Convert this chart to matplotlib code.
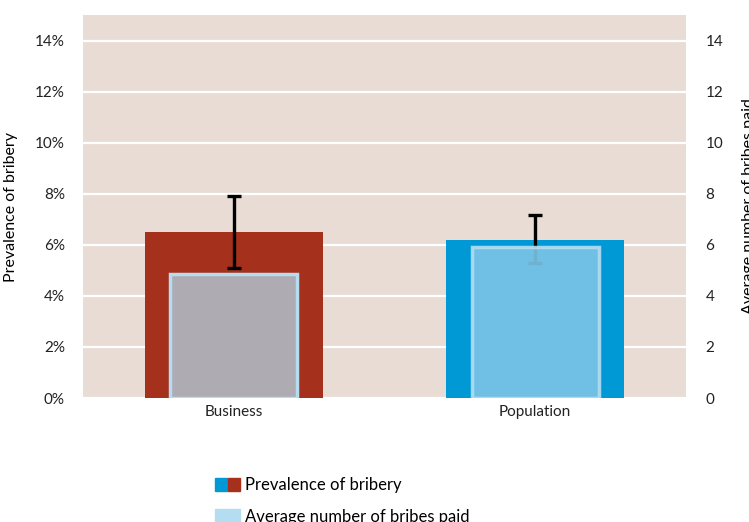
import matplotlib.pyplot as plt
from matplotlib.patches import Patch
from matplotlib.legend_handler import HandlerTuple
import numpy as np

plt.rcParams['font.family'] = ['Lato', 'DejaVu Sans']

categories = ['Business', 'Population']
prevalence = [6.5, 6.2]          # % (left axis)
prev_err_low = [5.1, 5.3]
prev_err_high = [7.9, 7.15]
avg_bribes = [4.85, 5.9]         # right axis

bar_colors = ['#a5301b', '#0099d6']
inner_colors = ['#aeabb2', '#7dc5e8']
inner_alpha = [1.0, 0.9]

fig = plt.figure(figsize=(7.49, 5.22), dpi=100)
ax1 = fig.add_axes([83/749, 1 - 398/522, 603/749, 383/522])
ax1.set_facecolor('#e8dcd5')

x = np.arange(len(categories))
ax1.bar(x, prevalence, width=0.59, color=bar_colors, zorder=2)
yerr = [np.array(prevalence) - np.array(prev_err_low),
        np.array(prev_err_high) - np.array(prevalence)]
ax1.errorbar(x, prevalence, yerr=yerr, fmt='none', ecolor='black',
             elinewidth=2.4, capsize=5, capthick=2.4, zorder=3)

ax1.set_ylim(0, 15)
ax1.set_xlim(-0.5, 1.5)
ax1.set_yticks(range(0, 15, 2))
ax1.set_yticklabels([f'{v}%' for v in range(0, 15, 2)])
ax1.yaxis.grid(True, color='white', linewidth=1.6, zorder=0)
ax1.set_axisbelow(True)
ax1.set_xticks(x)
ax1.set_xticklabels(categories)
ax1.tick_params(length=0, labelsize=11, colors='#222222')
ax1.tick_params(axis='y', pad=13)
ax1.tick_params(axis='x', pad=5)
ax1.set_ylabel('Prevalence of bribery', fontsize=11.5)
ax1.yaxis.set_label_coords(-65/603, 0.5)
for s in ax1.spines.values():
    s.set_visible(False)

ax2 = ax1.twinx()
bars2 = ax2.bar(x, avg_bribes, width=0.42, color=inner_colors,
                edgecolor='#b5ddf2', linewidth=2.5, zorder=4)
for b, a in zip(bars2, inner_alpha):
    b.set_alpha(a)
ax2.set_ylim(0, 15)
ax2.set_yticks(range(0, 15, 2))
ax2.tick_params(length=0, labelsize=11, colors='#222222', pad=14)
ax2.set_ylabel('Average number of bribes paid', fontsize=11.5)
ax2.yaxis.set_label_coords(1 + 56/603, 0.5)
for s in ax2.spines.values():
    s.set_visible(False)

h1 = (Patch(color='#0099d6'), Patch(color='#a5301b'))
h2 = Patch(facecolor='#b5ddf2', edgecolor='#b5ddf2')
fig.legend([h1, h2], ['Prevalence of bribery', 'Average number of bribes paid'],
           handler_map={tuple: HandlerTuple(ndivide=None, pad=0.1)},
           loc='upper left', bbox_to_anchor=(200/749, 1 - 462/522),
           frameon=False, fontsize=12, handlelength=1.5, handleheight=0.85,
           handletextpad=0.3, labelspacing=0.95)

fig.savefig('out.png', dpi=100)
